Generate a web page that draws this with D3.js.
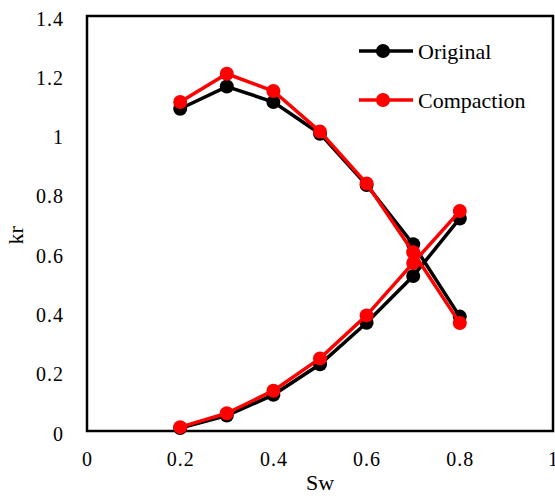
<!DOCTYPE html>
<html>
<head>
<meta charset="utf-8">
<script src="https://cdn.jsdelivr.net/npm/d3@7"></script>
<style>
  body { margin: 0; background: #fff; }
  svg, svg text { font-family: 'Liberation Serif', serif !important; }
</style>
</head>
<body>
<div id="chart"></div>
<script>
// ---- data ----
var sw = [0.2, 0.3, 0.4, 0.5, 0.6, 0.7, 0.8];

// decreasing curve and increasing curve for each case
var originalKro    = [1.087, 1.162, 1.11, 1.003, 0.83, 0.63, 0.386];
var originalKrw    = [0.01, 0.052, 0.122, 0.225, 0.365, 0.523, 0.717];
var compactionKro  = [1.11, 1.205, 1.147, 1.01, 0.835, 0.603, 0.364];
var compactionKrw  = [0.013, 0.06, 0.136, 0.245, 0.39, 0.567, 0.742];

var xTicks = [0, 0.2, 0.4, 0.6, 0.8, 1];
var yTicks = [0, 0.2, 0.4, 0.6, 0.8, 1, 1.2, 1.4];

var seriesNames = ["Original", "Compaction"];
var seriesColors = ["#000000", "#ff0000"];

// ---- layout ----
var W = 555, H = 498;
var margin = {top: 16, right: 2, bottom: 67, left: 87};
var width = W - margin.left - margin.right,
    height = H - margin.top - margin.bottom;

var svg = d3.select("#chart").append("svg")
    .attr("width", W)
    .attr("height", H);

var g = svg.append("g")
    .attr("transform", "translate(" + margin.left + "," + margin.top + ")");

var x = d3.scaleLinear().domain([0, 1]).range([0, width]);
var y = d3.scaleLinear().domain([0, 1.4]).range([height, 0]);

// x axis labels (no tick marks)
var xAxis = g.append("g")
    .attr("transform", "translate(0," + height + ")")
    .call(d3.axisBottom(x).tickValues(xTicks).tickSize(0).tickPadding(21)
          .tickFormat(function(d){ return String(d); }));
xAxis.attr("font-family", null).attr("font-size", null);
xAxis.select(".domain").remove();
xAxis.selectAll("text")
    .attr("font-size", 20)
    .style("letter-spacing", "1px")
    .attr("fill", "#000");

var yAxis = g.append("g")
    .call(d3.axisLeft(y).tickValues(yTicks).tickSize(0).tickPadding(23)
          .tickFormat(function(d){ return String(+d.toFixed(1)); }));
yAxis.attr("font-family", null).attr("font-size", null);
yAxis.select(".domain").remove();
yAxis.selectAll("text")
    .attr("font-size", 20)
    .style("letter-spacing", "1px")
    .attr("dy", "0.45em")
    .attr("fill", "#000");

// frame
g.append("rect")
    .attr("x", 0).attr("y", 0)
    .attr("width", width).attr("height", height)
    .attr("fill", "none")
    .attr("stroke", "#000")
    .attr("stroke-width", 2.5);

// axis titles
svg.append("text")
    .attr("x", margin.left + x(0.5))
    .attr("y", 490)
    .attr("text-anchor", "middle")
    .attr("font-size", 22)
    .text("Sw");

svg.append("text")
    .attr("transform", "translate(23," + (margin.top + y(0.66)) + ") rotate(-90)")
    .attr("text-anchor", "middle")
    .attr("font-size", 22)
    .text("kr");

// ---- series ----
var line = d3.line()
    .x(function(d){ return x(d.x); })
    .y(function(d){ return y(d.y); });

function drawCurve(vals, color) {
  var pts = sw.map(function(s, i){ return {x: s, y: vals[i]}; });
  g.append("path")
    .datum(pts)
    .attr("d", line)
    .attr("fill", "none")
    .attr("stroke", color)
    .attr("stroke-width", 3.5);
  g.selectAll(null)
    .data(pts)
    .enter()
    .append("circle")
      .attr("cx", function(d){ return x(d.x); })
      .attr("cy", function(d){ return y(d.y); })
      .attr("r", 7)
      .attr("fill", color);
}

drawCurve(originalKro, seriesColors[0]);
drawCurve(originalKrw, seriesColors[0]);
drawCurve(compactionKro, seriesColors[1]);
drawCurve(compactionKrw, seriesColors[1]);

// ---- legend ----
var legend = svg.append("g").attr("transform", "translate(359,51)");
seriesNames.forEach(function(name, i) {
  var row = legend.append("g").attr("transform", "translate(0," + (i * 49) + ")");
  row.append("line")
    .attr("x1", 0).attr("x2", 54)
    .attr("y1", 0).attr("y2", 0)
    .attr("stroke", seriesColors[i])
    .attr("stroke-width", 3.5);
  row.append("circle")
    .attr("cx", 24).attr("cy", 0).attr("r", 7)
    .attr("fill", seriesColors[i]);
  row.append("text")
    .attr("x", 59).attr("y", 8)
    .attr("font-size", 22)
    .text(name);
});
</script>
</body>
</html>
